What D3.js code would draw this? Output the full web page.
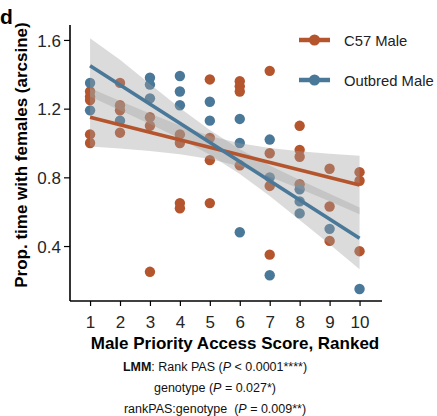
<!DOCTYPE html>
<html>
<head>
<meta charset="utf-8">
<script src="https://cdn.jsdelivr.net/npm/d3@7"></script>
<style>
  body { margin: 0; background: #fff; }
  svg { font-family: "Liberation Sans", Arial, sans-serif; }
</style>
</head>
<body>
<svg width="437" height="416"></svg>
<script>
// ranks on the x axis
var ranks = [1, 2, 3, 4, 5, 6, 7, 8, 9, 10];

// individual points, one list per rank
var c57Points = [
	[1.30, 1.27, 1.25, 1.05, 1.00],
	[1.35, 1.22, 1.19, 1.06],
	[1.15, 1.10, 0.25],
	[1.05, 1.00, 0.65, 0.62],
	[1.37, 1.03, 0.90, 0.65],
	[1.36, 1.33, 1.30, 0.87],
	[1.42, 0.94, 0.75, 0.35],
	[1.10, 0.96, 0.92, 0.76],
	[0.85, 0.63, 0.43],
	[0.83, 0.78, 0.37]
];
var outbredPoints = [
	[1.35, 1.19],
	[1.13],
	[1.38, 1.34, 1.26],
	[1.39, 1.30, 1.22],
	[1.24, 1.13],
	[1.14, 1.00, 0.48],
	[1.02, 0.80, 0.23],
	[0.73, 0.66, 0.59],
	[0.50],
	[0.15]
];

// fitted lines (value at rank 1 and rank 10)
var c57Fit = [1.15, 0.755];
var outbredFit = [1.45, 0.445];

// confidence bands, per rank
var c57Lower = [0.98, 0.968, 0.953, 0.934, 0.907, 0.864, 0.803, 0.734, 0.661, 0.585];
var c57Upper = [1.32, 1.244, 1.171, 1.102, 1.041, 0.998, 0.971, 0.952, 0.937, 0.925];
var outbredLower = [1.27, 1.191, 1.111, 1.026, 0.931, 0.820, 0.691, 0.552, 0.410, 0.265];
var outbredUpper = [1.61, 1.485, 1.343, 1.204, 1.075, 0.964, 0.869, 0.784, 0.704, 0.625];

var yTicks = [0.4, 0.8, 1.2, 1.6];
var legendNames = ["C57 Male", "Outbred Male"];
var statLines = [
	[["LMM", "b"], [": Rank PAS (", ""], ["P", "i"], [" < 0.0001****)", ""]],
	[["genotype (", ""], ["P", "i"], [" = 0.027*)", ""]],
	[["rankPAS:genotype  (", ""], ["P", "i"], [" = 0.009**)", ""]]
];

var orange = "#b4552d", blue = "#4a7898";

var svg = d3.select("svg");

var x = d3.scaleLinear().domain([0.33, 10.75]).range([70, 382]);
var y = d3.scaleLinear().domain([0.08, 1.687]).range([301, 25]);

// points
function drawPoints(list, col){
	var flat = [];
	list.forEach(function(vals, i){
		vals.forEach(function(v){ flat.push({r: ranks[i], v: v}); });
	});
	svg.append("g")
		.selectAll("circle")
		.data(flat)
		.enter()
		.append("circle")
		.attr("cx", d=>x(d.r))
		.attr("cy", d=>y(d.v))
		.attr("r", 5.2)
		.style("fill", col);
}
drawPoints(c57Points, orange);
drawPoints(outbredPoints, blue);

// bands
var area = d3.area()
	.x(d=>x(d.r))
	.y0(d=>y(d.lo))
	.y1(d=>y(d.hi));

[[c57Lower, c57Upper], [outbredLower, outbredUpper]].forEach(function(b){
	var pts = ranks.map((r, i) => ({r: r, lo: b[0][i], hi: b[1][i]}));
	svg.append("path")
		.attr("d", area(pts))
		.style("fill", "#a0a0a0")
		.style("fill-opacity", 0.38);
});

// fit lines
[[c57Fit, orange], [outbredFit, blue]].forEach(function(f){
	svg.append("line")
		.attr("x1", x(ranks[0]))
		.attr("x2", x(ranks[ranks.length-1]))
		.attr("y1", y(f[0][0]))
		.attr("y2", y(f[0][1]))
		.style("stroke", f[1])
		.style("stroke-width", 3.6);
});

// axes
var xAxis = d3.axisBottom(x).tickValues(ranks).tickSize(5).tickPadding(10).tickSizeOuter(0);
var xg = svg.append("g").attr("transform", "translate(0,301)").call(xAxis);
var yAxis = d3.axisLeft(y).tickValues(yTicks).tickFormat(d3.format(".1f")).tickSize(6).tickPadding(3).tickSizeOuter(0);
var yg = svg.append("g").attr("transform", "translate(70,0)").call(yAxis);

[xg, yg].forEach(function(g){
	g.select(".domain").style("stroke", "#000").style("stroke-width", 1.6);
	g.selectAll(".tick line").style("stroke", "#000").style("stroke-width", 1.2);
	g.selectAll(".tick text").style("font-size", "17px").style("fill", "#262626")
		.style("font-family", "'Liberation Sans', Arial, sans-serif");
});
// axes meet at the corner
xg.select(".domain").attr("d", "M70,0H382");
yg.select(".domain").attr("d", "M0,25V301");
yg.selectAll(".tick text").attr("dy", "0.36em");

// axis titles
svg.append("text")
	.attr("x", 235)
	.attr("y", 349)
	.attr("text-anchor", "middle")
	.style("font-size", "17px")
	.style("font-weight", "bold")
	.text("Male Priority Access Score, Ranked");

svg.append("text")
	.attr("transform", "translate(27,155) rotate(-90)")
	.attr("text-anchor", "middle")
	.style("font-size", "17px")
	.style("font-weight", "bold")
	.text("Prop. time with females (arcsine)");

svg.append("text")
	.attr("x", 0)
	.attr("y", 24)
	.style("font-size", "21px")
	.style("font-weight", "bold")
	.text("d");

// legend
[orange, blue].forEach(function(col, i){
	var ly = 40 + i * 40;
	svg.append("line")
		.attr("x1", 299).attr("x2", 330)
		.attr("y1", ly).attr("y2", ly)
		.style("stroke", col).style("stroke-width", 4.5);
	svg.append("circle")
		.attr("cx", 314.5).attr("cy", ly).attr("r", 5.5)
		.style("fill", col);
	svg.append("text")
		.attr("x", 344).attr("y", ly + 5.5)
		.style("font-size", "14.8px")
		.style("fill", "#222")
		.text(legendNames[i]);
});

// stats text
statLines.forEach(function(parts, i){
	var t = svg.append("text")
		.attr("x", 215)
		.attr("y", 371 + i * 21)
		.attr("text-anchor", "middle")
		.attr("xml:space", "preserve")
		.style("font-size", "12.5px")
		.style("fill", "#111");
	parts.forEach(function(p){
		var s = t.append("tspan").text(p[0]);
		if (p[1] == "b") s.style("font-weight", "bold");
		if (p[1] == "i") s.style("font-style", "italic");
	});
});
</script>
</body>
</html>
